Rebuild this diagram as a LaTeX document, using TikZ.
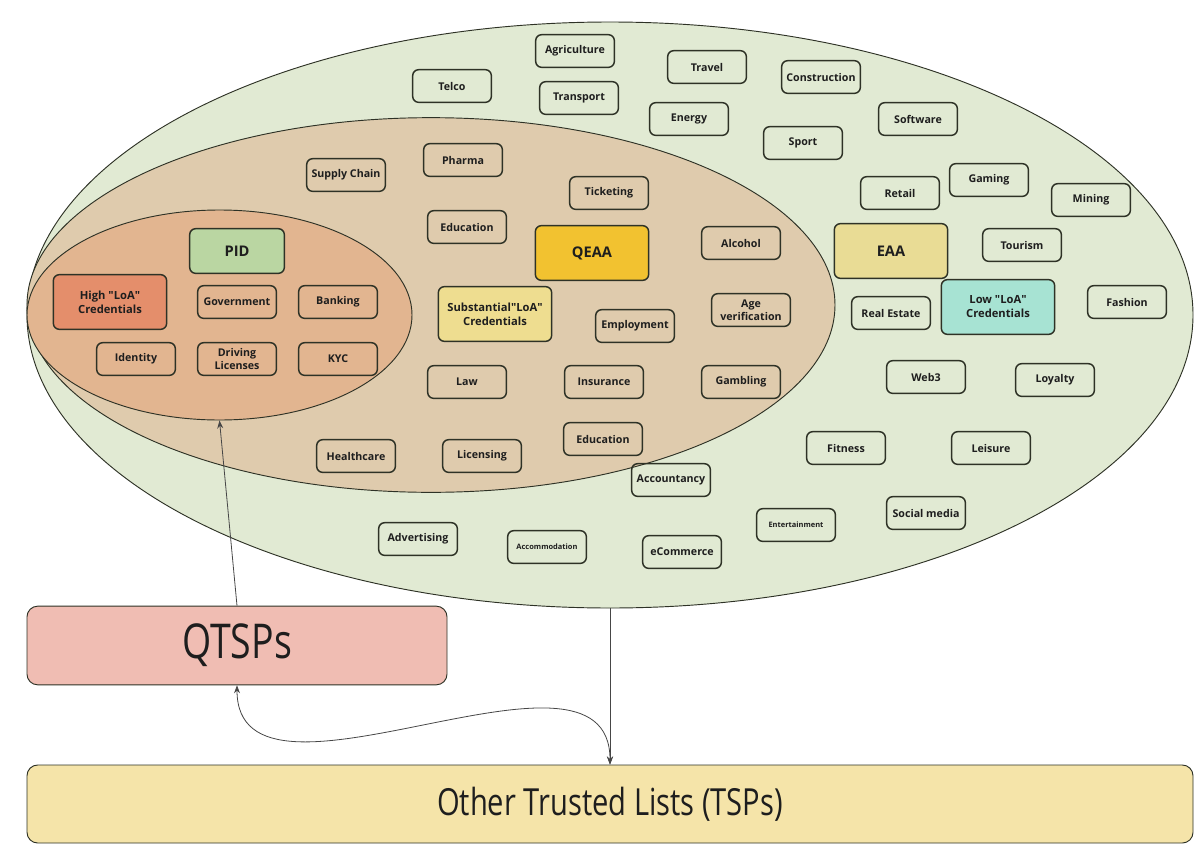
\documentclass[tikz,border=0pt]{standalone}
\usepackage{fontspec}
\setmainfont{Open Sans}
\newfontfamily\bigfont[FakeStretch=0.78]{Open Sans}
\usetikzlibrary{shapes.geometric,arrows.meta}

\definecolor{outergreen}{RGB}{225,234,211}
\definecolor{midtan}{RGB}{223,203,173}
\definecolor{innerorange}{RGB}{226,181,144}
\definecolor{pidgreen}{RGB}{186,214,162}
\definecolor{highred}{RGB}{228,142,107}
\definecolor{qeaagold}{RGB}{242,194,48}
\definecolor{subyellow}{RGB}{238,221,144}
\definecolor{eaayellow}{RGB}{233,220,149}
\definecolor{lowteal}{RGB}{167,227,211}
\definecolor{qtsppink}{RGB}{240,189,179}
\definecolor{tslyellow}{RGB}{245,228,169}
\definecolor{boxline}{RGB}{46,50,38}
\definecolor{ink}{RGB}{30,30,30}
\definecolor{wire}{RGB}{70,70,70}

\newcommand{\dq}{\textquotedbl}

\begin{document}
\begin{tikzpicture}[x=0.75pt,y=-0.75pt,>={Stealth[length=6pt,width=4.5pt]},
  field/.style={draw=boxline,line width=0.7pt,ellipse,inner sep=0pt},
  tag/.style={draw=boxline,line width=1.1pt,rounded corners=4.5pt,minimum width=59pt,minimum height=24.5pt,inner sep=1pt,align=center,text=ink,font=\bfseries\fontsize{8}{9.5}\selectfont},
  tiny/.style={tag,font=\bfseries\fontsize{5.6}{7}\selectfont},
  kind/.style={tag,minimum width=85pt,minimum height=41pt,font=\bfseries\fontsize{11}{13}\selectfont},
  cred/.style={tag,minimum width=85pt,minimum height=41pt,font=\bfseries\fontsize{8.4}{10.5}\selectfont},
  slab/.style={draw=boxline,line width=0.7pt,rounded corners=8pt,text=ink},
  link/.style={draw=wire,line width=0.6pt}]

\useasboundingbox (0,0) rectangle (1200,857);

\node[field,fill=outergreen,minimum width=874.5pt,minimum height=439.5pt] (outer) at (610,315) {};
\node[field,fill=midtan,minimum width=606pt,minimum height=281pt] (middle) at (431,305) {};
\node[field,fill=innerorange,minimum width=288.75pt,minimum height=157.5pt] (inner) at (219.5,315) {};

\node[tag] (telco) at (452,86) {Telco};
\node[tag] (agri) at (575,51) {Agriculture};
\node[tag] (transport) at (579,98) {Transport};
\node[tag] (travel) at (707,67) {Travel};
\node[tag] (energy) at (689,119) {Energy};
\node[tag] (construct) at (821,77) {Construction};
\node[tag] (sport) at (803,143) {Sport};
\node[tag] (software) at (918,119) {Software};
\node[tag] (retail) at (900,193) {Retail};
\node[tag] (gaming) at (989,180) {Gaming};
\node[tag] (mining) at (1091,200) {Mining};
\node[kind,fill=eaayellow] (eaa) at (891,251) {EAA};
\node[tag] (tourism) at (1022,245) {Tourism};
\node[tag] (realestate) at (891,313) {Real Estate};
\node[cred,fill=lowteal] (lowloa) at (998,307) {Low \dq LoA\dq\\Credentials};
\node[tag] (fashion) at (1127,302) {Fashion};
\node[tag] (web3) at (926,377) {Web3};
\node[tag] (loyalty) at (1055,380) {Loyalty};
\node[tag] (fitness) at (846,448) {Fitness};
\node[tag] (leisure) at (991,448) {Leisure};
\node[tag] (social) at (926,513) {Social media};
\node[tiny] (entertain) at (796,525) {Entertainment};
\node[tag] (ecommerce) at (682,552) {eCommerce};
\node[tiny] (accomm) at (547,547) {Accommodation};
\node[tag] (advert) at (418,539) {Advertising};
\node[tag] (account) at (671,480) {Accountancy};

\node[tag] (supply) at (346,175) {Supply Chain};
\node[tag] (pharma) at (463,160) {Pharma};
\node[tag] (ticket) at (609,193) {Ticketing};
\node[tag] (educ) at (467,227) {Education};
\node[kind,fill=qeaagold] (qeaa) at (592,253) {QEAA};
\node[tag] (alcohol) at (741,243) {Alcohol};
\node[cred,fill=subyellow] (subloa) at (495,314) {Substantial\dq LoA\dq\\Credentials};
\node[tag] (employ) at (635,326) {Employment};
\node[tag] (age) at (751,310) {Age\\verification};
\node[tag] (law) at (467,382) {Law};
\node[tag] (insure) at (604,382) {Insurance};
\node[tag] (gamble) at (741,382) {Gambling};
\node[tag] (educb) at (603,439) {Education};
\node[tag] (health) at (356,456) {Healthcare};
\node[tag] (licence) at (482,456) {Licensing};

\node[kind,fill=pidgreen,minimum width=71pt,minimum height=33.5pt] (pid) at (237,251) {PID};
\node[cred,fill=highred] (highloa) at (110,302) {High \dq LoA\dq\\Credentials};
\node[tag] (gov) at (237,302) {Government};
\node[tag] (bank) at (338,302) {Banking};
\node[tag] (identity) at (136,359) {Identity};
\node[tag] (driving) at (237,359) {Driving\\Licenses};
\node[tag] (kyc) at (338,359) {KYC};

\node[slab,fill=qtsppink,minimum width=315pt,minimum height=59pt,font=\bigfont\fontsize{36}{40}\selectfont] (qtsps) at (237,645.5) {QTSPs};
\node[slab,fill=tslyellow,minimum width=874.5pt,minimum height=58.5pt,font=\bigfont\fontsize{28}{32}\selectfont] (tsl) at (610,804) {Other Trusted Lists (TSPs)};

\draw[link,->] (qtsps.north) -- (inner.south);
\draw[link,->] (outer.south) -- (tsl.north);
\draw[link,<->] (qtsps.south) to[out=-90,in=90] (tsl.north);

\end{tikzpicture}
\end{document}
